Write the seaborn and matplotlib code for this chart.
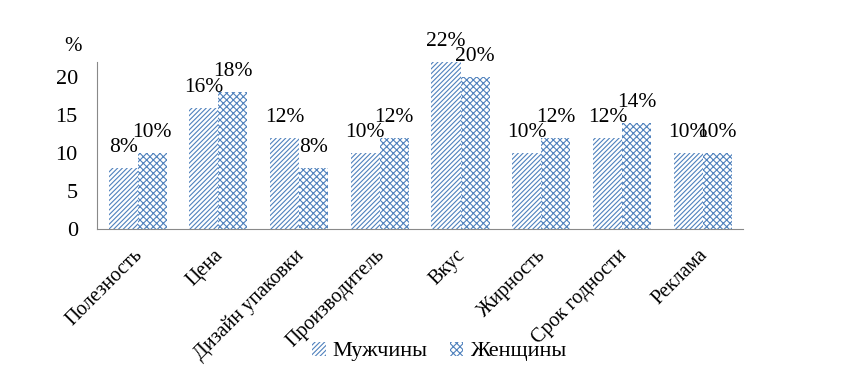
import pandas as pd
import matplotlib
matplotlib.use("Agg")
import matplotlib.pyplot as plt
import matplotlib.patches as mpatches
import matplotlib.transforms as mtransforms
import seaborn as sns

# Chart data
categories = ["Полезность", "Цена", "Дизайн упаковки", "Производитель",
              "Вкус", "Жирность", "Срок годности", "Реклама"]
men = [8, 16, 12, 10, 22, 10, 12, 10]
women = [10, 18, 8, 12, 20, 12, 14, 10]
series = ["Мужчины", "Женщины"]
hatches = ["///////", "xxxxx"]

blue = "#4F81BD"

df = pd.DataFrame({
    "category": categories * 2,
    "value": men + women,
    "sex": [series[0]] * len(men) + [series[1]] * len(women),
})

sns.set_style("white")
plt.rcParams["font.family"] = ["Liberation Serif", "DejaVu Serif"]
plt.rcParams["text.color"] = "black"
plt.rcParams["xtick.color"] = "black"
plt.rcParams["ytick.color"] = "black"
plt.rcParams["hatch.linewidth"] = 0.8

fig = plt.figure(figsize=(8.61, 3.72), dpi=100)
ax = fig.add_axes([0.113, 0.384, 0.75, 0.449])

sns.barplot(data=df, x="category", y="value", hue="sex", order=categories,
            hue_order=series, width=0.72, ax=ax, legend=False)

for cont, h in zip(ax.containers, hatches):
    for bar in cont:
        bar.set_facecolor("white")
        bar.set_edgecolor(blue)
        bar.set_hatch(h)
        bar.set_linewidth(0)
    ax.bar_label(cont, labels=[f"{v:.0f}%" for v in cont.datavalues],
                 fontsize=15.5, padding=8, color="black")

ax.set_ylim(0, 22)
ax.set_yticks([0, 5, 10, 15, 20])
ax.set_xlim(-0.5, len(categories) - 0.5)
ax.set_xlabel("")
ax.set_ylabel("")
ax.tick_params(axis="y", labelsize=16, length=0, pad=14)
ax.tick_params(axis="x", labelsize=14.5, length=0, pad=12)
shift = mtransforms.ScaledTranslation(-5 / 100, 0, fig.dpi_scale_trans)
for lbl in ax.get_xticklabels():
    lbl.set_rotation(45)
    lbl.set_ha("right")
    lbl.set_rotation_mode("anchor")
    lbl.set_transform(lbl.get_transform() + shift)

for side in ["top", "right"]:
    ax.spines[side].set_visible(False)
ax.spines["left"].set_color("#898989")
ax.spines["bottom"].set_color("#898989")

fig.text(0.085, 0.875, "%", fontsize=15, ha="center", va="center")

handles = [mpatches.Patch(facecolor="white", edgecolor=blue, hatch=h, linewidth=0, label=s)
           for s, h in zip(series, hatches)]
fig.legend(handles=handles, loc="center", bbox_to_anchor=(0.51, 0.055), ncol=2,
           frameon=False, fontsize=16, handlelength=0.6, handleheight=0.6,
           handletextpad=0.3, columnspacing=1.0)

fig.savefig("out.png", dpi=100)
